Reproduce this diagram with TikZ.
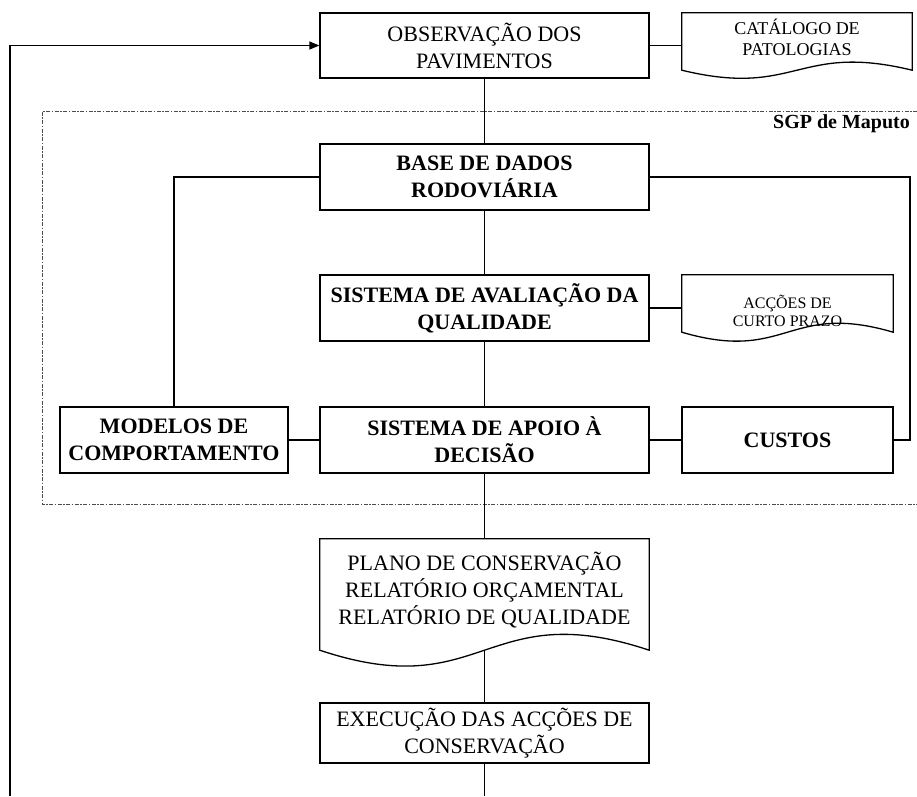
\documentclass[tikz,border=0pt]{standalone}
\usepackage{fontspec}
\setmainfont{Liberation Serif}
\usetikzlibrary{arrows.meta,calc}
\newcommand\docoutline[4]{\draw[ln] (#1.north west) -- (#1.north east) -- ([yshift=#2]#1.south east) .. controls ([yshift=#3]#1.south) and ([yshift=#4]#1.south) .. ([yshift=#2]#1.south west) -- cycle;}
\begin{document}
\begin{tikzpicture}[x=1pt,y=-1pt,
  ln/.style={line width=1.3pt},
  box/.style={draw,line width=1.3pt,inner sep=0pt,align=center,minimum width=329pt,minimum height=66pt,font=\fontsize{22}{27}\selectfont},
  bbox/.style={box,font=\fontsize{22}{27}\selectfont\bfseries},
  doc/.style={inner sep=0pt,align=center},
  sgpline/.style={line width=1pt,draw=black!70,dash pattern=on 4pt off 1.5pt on 1.5pt off 1.5pt}]
\useasboundingbox (0,0) rectangle (917,796);
% SGP frame
\coordinate (d1) at (917,111);
\coordinate (d2) at (42,111);
\coordinate (d3) at (42,504);
\coordinate (d4) at (917,504);
\draw[sgpline] (d1) -- (d2) -- (d3) -- (d4);
\node[font=\fontsize{20}{24}\selectfont\bfseries,anchor=base east,inner sep=0pt] (sgp) at (910,128) {SGP de Maputo};
% nodes
\node[box,minimum height=65pt] (obs) at (484.5,45.5) {OBSERVAÇÃO DOS\\PAVIMENTOS};
\node[doc,minimum width=230pt,minimum height=49pt,font=\fontsize{18}{21}\selectfont] (cat) at (797,37.5) {CATÁLOGO DE\\PATOLOGIAS};
\docoutline{cat}{-8pt}{20pt}{-36pt}
\node[bbox] (base) at (484.5,177) {BASE DE DADOS\\RODOVIÁRIA};
\node[bbox] (aval) at (484.5,308) {SISTEMA DE AVALIAÇÃO DA\\QUALIDADE};
\node[doc,minimum width=211pt,minimum height=72pt,font=\fontsize{16}{17.5}\selectfont] (acc) at (787.5,311) {ACÇÕES DE\\CURTO PRAZO};
\docoutline{acc}{15pt}{46pt}{-16pt}
\node[bbox] (apoio) at (484.5,440) {SISTEMA DE APOIO À\\DECISÃO};
\node[bbox,minimum width=228pt] (mod) at (174,440) {MODELOS DE\\COMPORTAMENTO};
\node[bbox,minimum width=211pt] (cus) at (787.5,440) {CUSTOS};
\node[doc,minimum width=329pt,minimum height=102pt,font=\fontsize{22}{27}\selectfont] (plano) at (484.5,590) {PLANO DE CONSERVAÇÃO\\RELATÓRIO ORÇAMENTAL\\RELATÓRIO DE QUALIDADE};
\docoutline{plano}{-9pt}{46pt}{-64pt}
\node[box,minimum height=60pt] (exec) at (484.5,733) {EXECUÇÃO DAS ACÇÕES DE\\CONSERVAÇÃO};
% connectors
\coordinate (pw) at ([yshift=-9pt]plano.south);
\coordinate (bc) at (484.5,796);
\coordinate (bl) at (10,796);
\coordinate (tl) at (10,45.5);
\coordinate (rc) at (910,300);
\draw[ln] (obs.east) -- (obs.east -| cat.west);
\draw[ln] (aval.east) -- (aval.east -| acc.west);
\draw[ln] (obs.south) -- (base.north);
\draw[ln] (base.south) -- (aval.north);
\draw[ln] (aval.south) -- (apoio.north);
\draw[ln] (apoio.south) -- (plano.north);
\draw[ln] (pw) -- (exec.north);
\draw[ln] (exec.south) -- (bc);
\draw[ln] (mod.east) -- (apoio.west);
\draw[ln] (apoio.east) -- (cus.west);
\draw[ln] (base.west) -| (mod.north);
\draw[ln] (base.east) -| (rc) |- (cus.east);
\draw[ln,-{Triangle[length=10pt,width=8pt]}] (bl) -- (tl) -- (obs.west);
\end{tikzpicture}
\end{document}
